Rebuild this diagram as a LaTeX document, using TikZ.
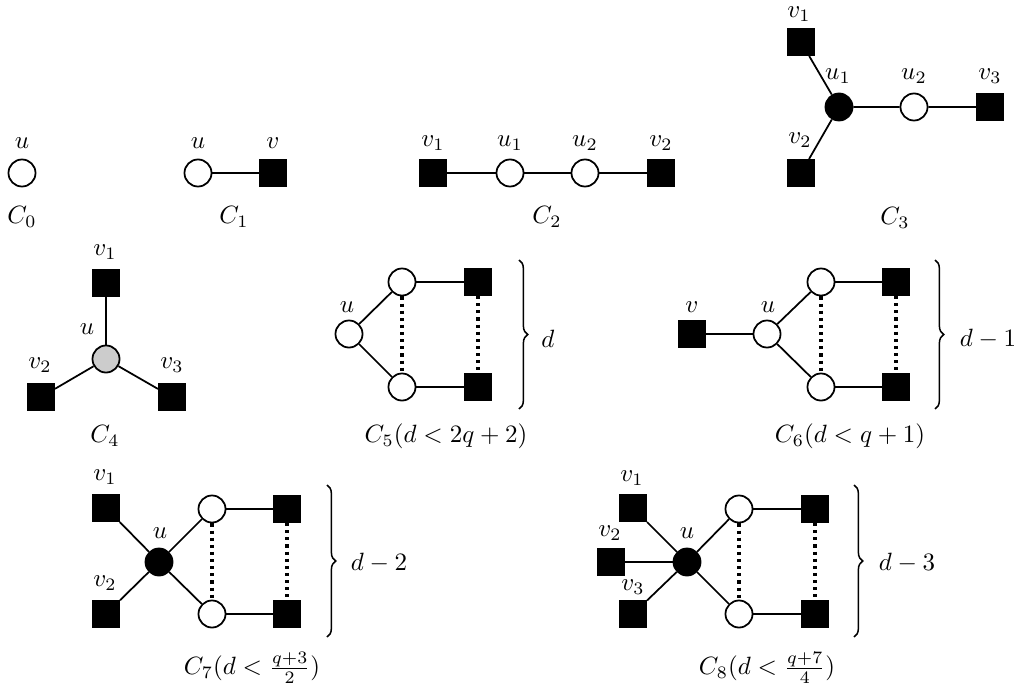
\documentclass[tikz,border=0pt]{standalone}
\usepackage{amsmath}
\usepackage{amssymb}
\usetikzlibrary{decorations.pathreplacing}

\begin{document}
\begin{tikzpicture}[x=0.01406cm, y=-0.01406cm, line width=0.7pt,
  wv/.style={circle, draw, fill=white, minimum size=0.38cm, inner sep=0pt},
  bv/.style={wv, fill=black},
  gv/.style={wv, fill=black!20},
  sq/.style={rectangle, draw, fill=black, minimum size=0.37cm, inner sep=0pt},
  dots/.style={line width=1.25pt, dash pattern=on 1.25pt off 1.6pt},
  brc/.style={line width=0.6pt, decorate, decoration={brace, amplitude=3.5pt}}]
\useasboundingbox (0,0) rectangle (1023,689);

% C0
\node[wv] (a0) at (22,173) {};
\node (a0u) at (22,143) {$u$};
\node (ca) at (22,217) {$C_0$};

% C1
\node[wv] (b0) at (198,173) {};
\node[sq] (b1) at (273,173) {};
\node (b0u) at (198,143) {$u$};
\node (b1v) at (273,143) {$v$};
\node (cb) at (234,217) {$C_1$};
\draw (b0) -- (b1);

% C2
\node[sq] (c1) at (433,173) {};
\node[wv] (c2) at (510,173) {};
\node[wv] (c3) at (585,173) {};
\node[sq] (c4) at (661,173) {};
\node (c1v) at (433,143) {$v_1$};
\node (c2u) at (510,143) {$u_1$};
\node (c3u) at (585,143) {$u_2$};
\node (c4v) at (661,143) {$v_2$};
\node (cc) at (547,217) {$C_2$};
\draw (c1) -- (c2) -- (c3) -- (c4);

% C3
\node[sq] (d1) at (801,42) {};
\node[bv] (d2) at (839,107) {};
\node[wv] (d3) at (914,107) {};
\node[sq] (d4) at (990,107) {};
\node[sq] (d5) at (801,173) {};
\node (d1v) at (799,14) {$v_1$};
\node (d2u) at (838,76) {$u_1$};
\node (d3u) at (914,76) {$u_2$};
\node (d4v) at (990,76) {$v_3$};
\node (d5v) at (800,140) {$v_2$};
\node (cd) at (895,218) {$C_3$};
\draw (d1) -- (d2) -- (d3) -- (d4);
\draw (d5) -- (d2);

% C4
\node[sq] (e1) at (106,283) {};
\node[gv] (e2) at (106,359) {};
\node[sq] (e3) at (41,397) {};
\node[sq] (e4) at (172,397) {};
\node (e1v) at (105,252) {$v_1$};
\node (e2u) at (87,329) {$u$};
\node (e3v) at (40,365) {$v_2$};
\node (e4v) at (172,365) {$v_3$};
\node (ce) at (105,436) {$C_4$};
\draw (e1) -- (e2);
\draw (e3) -- (e2) -- (e4);

% C5
\node[wv] (f0) at (349,334) {};
\node[wv] (f1) at (402,282) {};
\node[wv] (f2) at (402,387) {};
\node[sq] (f3) at (478,282) {};
\node[sq] (f4) at (478,387) {};
\node (f0u) at (347,307) {$u$};
\draw (f1) -- (f0) -- (f2);
\draw (f1) -- (f3);
\draw (f2) -- (f4);
\draw[dots] (f1) -- (f2);
\draw[dots] (f3) -- (f4);
\draw[brc] (519,260) -- (519,409);
\node (fd) at (548,339) {$d$};
\node (cf) at (446,436) {$C_5(d<2q+2)$};

% C6
\node[sq] (g0) at (692,334) {};
\node[wv] (g1) at (767,334) {};
\node[wv] (g2) at (821,282) {};
\node[wv] (g3) at (821,387) {};
\node[sq] (g4) at (896,282) {};
\node[sq] (g5) at (896,387) {};
\node (g0v) at (692,307) {$v$};
\node (g1u) at (768,307) {$u$};
\draw (g0) -- (g1);
\draw (g2) -- (g1) -- (g3);
\draw (g2) -- (g4);
\draw (g3) -- (g5);
\draw[dots] (g2) -- (g3);
\draw[dots] (g4) -- (g5);
\draw[brc] (935,260) -- (935,409);
\node (gd) at (988,339) {$d-1$};
\node (cg) at (850,436) {$C_6(d<q+1)$};

% C7
\node[sq] (h1) at (106,508) {};
\node[sq] (h2) at (106,614) {};
\node[bv] (h0) at (159,562) {};
\node[wv] (h3) at (212,509) {};
\node[wv] (h4) at (212,614) {};
\node[sq] (h5) at (287,509) {};
\node[sq] (h6) at (287,614) {};
\node (h1v) at (105,477) {$v_1$};
\node (h2v) at (105,583) {$v_2$};
\node (h0u) at (160,533) {$u$};
\draw (h1) -- (h0) -- (h4);
\draw (h2) -- (h0) -- (h3);
\draw (h3) -- (h5);
\draw (h4) -- (h6);
\draw[dots] (h3) -- (h4);
\draw[dots] (h5) -- (h6);
\draw[brc] (327,485) -- (327,637);
\node (hd) at (379,563) {$d-2$};
\node (ch) at (252,668) {$C_7(d<\frac{q+3}{2})$};

% C8
\node[sq] (k1) at (633,508) {};
\node[sq] (k2) at (611,562) {};
\node[sq] (k3) at (633,614) {};
\node[bv] (k0) at (687,562) {};
\node[wv] (k4) at (739,509) {};
\node[wv] (k5) at (739,614) {};
\node[sq] (k6) at (815,509) {};
\node[sq] (k7) at (815,614) {};
\node (k1v) at (632,478) {$v_1$};
\node (k2v) at (610,533) {$v_2$};
\node (k3v) at (633,587) {$v_3$};
\node (k0u) at (687,533) {$u$};
\draw (k1) -- (k0) -- (k5);
\draw (k3) -- (k0) -- (k4);
\draw (k2) -- (k0);
\draw (k4) -- (k6);
\draw (k5) -- (k7);
\draw[dots] (k4) -- (k5);
\draw[dots] (k6) -- (k7);
\draw[brc] (854,485) -- (854,637);
\node (kd) at (907,563) {$d-3$};
\node (ck) at (767,668) {$C_8(d<\frac{q+7}{4})$};
\end{tikzpicture}
\end{document}
